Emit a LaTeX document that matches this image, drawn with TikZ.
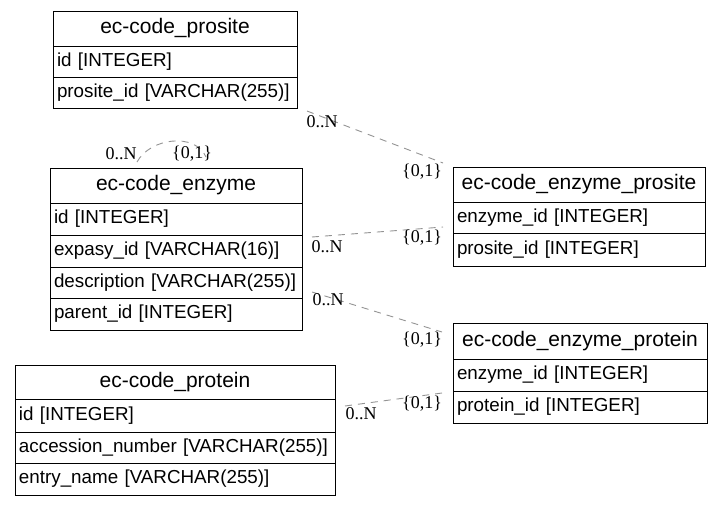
\documentclass[tikz,border=0pt]{standalone}
\usepackage{fontspec}
\setmainfont{Liberation Serif}
\newfontfamily\tabfont{Liberation Sans}
\begin{document}
\begin{tikzpicture}[x=1pt,y=-1pt,
 hdr/.style={draw, line width=1pt, anchor=north west, minimum width=#1, minimum height=35pt, inner sep=0pt, outer sep=0pt, font=\tabfont\fontsize{21}{25}\selectfont},
 fld/.style={draw, line width=1pt, anchor=north west, minimum height=32pt, text width=#1, align=left, inner xsep=4pt, inner ysep=0pt, outer sep=0pt, font=\tabfont\fontsize{18.8}{22}\selectfont},
 card/.style={font=\fontsize{18}{20}\selectfont, inner sep=0pt},
 rel/.style={draw=gray!85, dash pattern=on 7pt off 6pt, line width=0.9pt}]
\useasboundingbox (0,0) rectangle (721,507);
% ec-code_prosite
\node[hdr=244pt] (ps) at (53,11) {ec-code\_prosite};
\node[fld=236pt, minimum height=31pt] (ps1) at (ps.south west) {id [INTEGER]};
\node[fld=236pt, minimum height=31pt] (ps2) at (ps1.south west) {prosite\_id [VARCHAR(255)]};
% ec-code_enzyme
\node[hdr=252pt] (en) at (50,168) {ec-code\_enzyme};
\node[fld=244pt] (en1) at (en.south west) {id [INTEGER]};
\node[fld=244pt] (en2) at (en1.south west) {expasy\_id [VARCHAR(16)]};
\node[fld=244pt, minimum height=31pt] (en3) at (en2.south west) {description [VARCHAR(255)]};
\node[fld=244pt] (en4) at (en3.south west) {parent\_id [INTEGER]};
% ec-code_protein
\node[hdr=320pt, minimum height=34pt] (pr) at (15,365) {ec-code\_protein};
\node[fld=312pt, minimum height=33pt] (pr1) at (pr.south west) {id [INTEGER]};
\node[fld=312pt, minimum height=31pt] (pr2) at (pr1.south west) {accession\_number [VARCHAR(255)]};
\node[fld=312pt] (pr3) at (pr2.south west) {entry\_name [VARCHAR(255)]};
% ec-code_enzyme_prosite
\node[hdr=252pt] (ep) at (453,167) {ec-code\_enzyme\_prosite};
\node[fld=244pt, minimum height=31pt] (ep1) at (ep.south west) {enzyme\_id [INTEGER]};
\node[fld=244pt, minimum height=33pt] (ep2) at (ep1.south west) {prosite\_id [INTEGER]};
% ec-code_enzyme_protein
\node[hdr=254pt, minimum height=36pt] (eq) at (453,323) {ec-code\_enzyme\_protein};
\node[fld=246pt] (eq1) at (eq.south west) {enzyme\_id [INTEGER]};
\node[fld=246pt] (eq2) at (eq1.south west) {protein\_id [INTEGER]};
% relation end points
\coordinate (r1a) at (307,111); \coordinate (r1b) at (443,163);
\coordinate (r2a) at (312,237); \coordinate (r2b) at (443,227);
\coordinate (r3a) at (312,292); \coordinate (r3b) at (442,332);
\coordinate (r4a) at (345,406); \coordinate (r4b) at (442,393);
\coordinate (r5a) at (137,162); \coordinate (r5b) at (206,157);
\draw[rel] (r1a) -- (r1b);
\draw[rel] (r2a) -- (r2b);
\draw[rel] (r3a) -- (r3b);
\draw[rel] (r4a) -- (r4b);
\draw[rel] (r5a) .. controls (150,138) and (195,132) .. (r5b);
% cardinalities
\node[card] (c1a) at (322,122) {0..N};
\node[card] (c1b) at (422,172) {\{0,1\}};
\node[card] (c2a) at (327,247) {0..N};
\node[card] (c2b) at (422,238) {\{0,1\}};
\node[card] (c3a) at (328,300) {0..N};
\node[card] (c3b) at (422,340) {\{0,1\}};
\node[card] (c4a) at (361,414) {0..N};
\node[card] (c4b) at (422,404) {\{0,1\}};
\node[card] (c5a) at (121,154) {0..N};
\node[card] (c5b) at (192,154) {\{0,1\}};
\end{tikzpicture}
\end{document}
